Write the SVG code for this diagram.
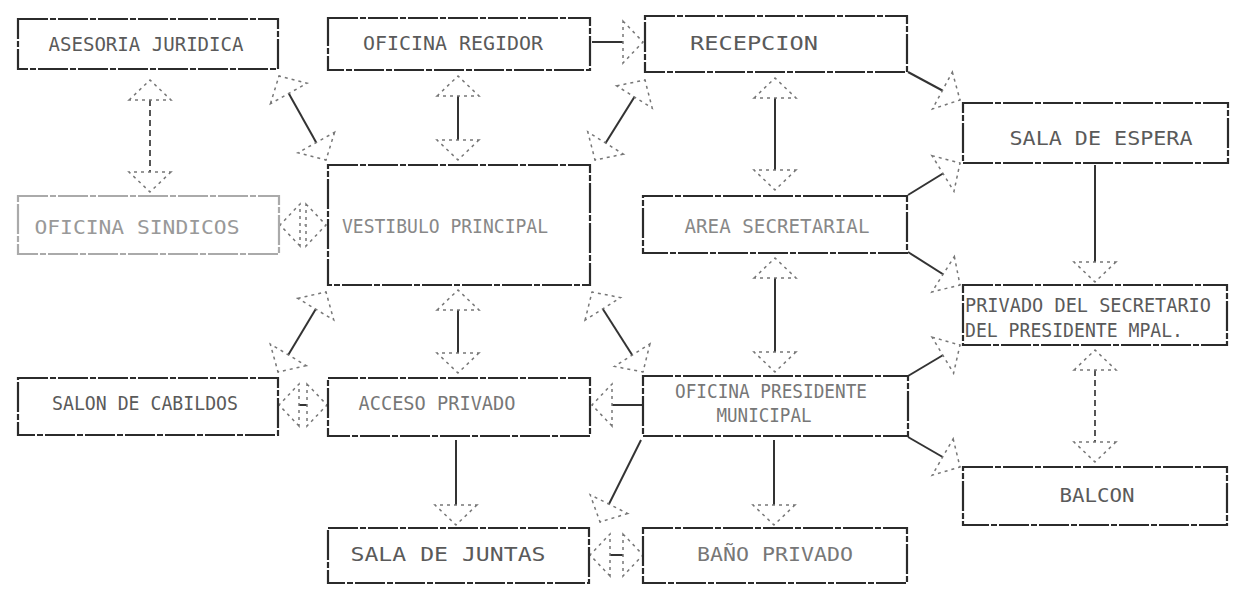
<svg xmlns="http://www.w3.org/2000/svg" width="1234" height="594" viewBox="0 0 1234 594">
<style>
.box{fill:#fff;stroke:#2b2b2b;stroke-width:2.2;stroke-dasharray:30 2 6 2}
.t{font-family:"DejaVu Sans Mono","Liberation Mono",monospace;font-size:19px;fill:#5a5a5a;text-anchor:middle}
.tl{font-family:"DejaVu Sans Mono","Liberation Mono",monospace;font-size:19px;fill:#5a5a5a;text-anchor:start}
.c{fill:none;stroke:#333;stroke-width:2}
.cd{fill:none;stroke:#444;stroke-width:1.8;stroke-dasharray:6 4}
.cf{fill:none;stroke:#999;stroke-width:1.2;stroke-dasharray:2 6}
.d2{marker-start:url(#ah);marker-end:url(#ah)}
.d1{marker-end:url(#ah)}
</style>
<defs>
<marker id="ah" viewBox="-2 -24 24 48" refX="20" refY="0" markerWidth="24" markerHeight="48" markerUnits="userSpaceOnUse" orient="auto-start-reverse">
<path d="M0,-21 L20,0 L0,21 Z" fill="#fff" stroke="#777" stroke-width="1.5" stroke-dasharray="3 4"/>
</marker>
</defs>
<rect width="1234" height="594" fill="#fff"/>
<g id="connectors">
<line class="cd d2" x1="150" y1="80" x2="150" y2="192"/>
<line class="c d2" x1="458" y1="76" x2="458" y2="160"/>
<line class="c d2" x1="775" y1="78" x2="775" y2="190"/>
<line class="c d2" x1="775" y1="258" x2="775" y2="372"/>
<line class="c d2" x1="458" y1="290" x2="458" y2="373"/>
<line class="c d1" x1="456" y1="440" x2="456" y2="525"/>
<line class="c d1" x1="774" y1="440" x2="774" y2="525"/>
<line class="c d1" x1="1095" y1="165" x2="1095" y2="282"/>
<line class="cd d2" x1="1095" y1="350" x2="1095" y2="462"/>
<line class="c d1" x1="592" y1="42" x2="643" y2="42"/>
<line class="c d2" x1="595" y1="160" x2="645" y2="80"/>
<line class="c d2" x1="279" y1="76" x2="326" y2="160"/>
<line class="c d2" x1="326" y1="292" x2="278" y2="372"/>
<line class="c d2" x1="592" y1="292" x2="643" y2="372"/>
<line class="c d2" x1="279" y1="405" x2="327" y2="405"/>
<line class="cf d2" x1="280" y1="225" x2="326" y2="225"/>
<line class="c d1" x1="643" y1="405" x2="592" y2="405"/>
<line class="c d1" x1="908" y1="72" x2="960" y2="100"/>
<line class="c d1" x1="908" y1="195" x2="960" y2="163"/>
<line class="c d1" x1="908" y1="252" x2="960" y2="285"/>
<line class="c d1" x1="908" y1="376" x2="960" y2="345"/>
<line class="c d1" x1="908" y1="437" x2="960" y2="467"/>
<line class="c d1" x1="641" y1="440" x2="600" y2="522"/>
<line class="c d2" x1="590" y1="555" x2="643" y2="555"/>
</g>
<g id="asesoria-juridica"><rect class="box" x="18" y="19" width="260" height="50"/><text class="t" x="146" y="51" textLength="195" lengthAdjust="spacingAndGlyphs">ASESORIA JURIDICA</text></g>
<g id="oficina-regidor"><rect class="box" x="328" y="18" width="262" height="52"/><text class="t" x="453" y="50" textLength="180" lengthAdjust="spacingAndGlyphs">OFICINA REGIDOR</text></g>
<g id="recepcion"><rect class="box" x="645" y="16" width="262" height="56"/><text class="t" x="754" y="50" textLength="128" lengthAdjust="spacingAndGlyphs">RECEPCION</text></g>
<g id="sala-espera"><rect class="box" x="963" y="103" width="265" height="60"/><text class="t" x="1101" y="145" textLength="183" lengthAdjust="spacingAndGlyphs">SALA DE ESPERA</text></g>
<g id="oficina-sindicos"><rect class="box" x="18" y="196" width="261" height="58" style="stroke:#aaa"/><text class="t" x="137" y="234" textLength="205" lengthAdjust="spacingAndGlyphs" style="fill:#999">OFICINA SINDICOS</text></g>
<g id="vestibulo-principal"><rect class="box" x="328" y="165" width="262" height="120"/><text class="t" x="445" y="233" textLength="206" lengthAdjust="spacingAndGlyphs" style="fill:#888">VESTIBULO PRINCIPAL</text></g>
<g id="area-secretarial"><rect class="box" x="643" y="196" width="264" height="57"/><text class="t" x="777" y="233" textLength="185" lengthAdjust="spacingAndGlyphs" style="fill:#888">AREA SECRETARIAL</text></g>
<g id="privado-secretario"><rect class="box" x="963" y="285" width="264" height="60"/><text class="tl" x="965" y="312" textLength="246" lengthAdjust="spacingAndGlyphs">PRIVADO DEL SECRETARIO</text><text class="tl" x="965" y="337" textLength="218" lengthAdjust="spacingAndGlyphs">DEL PRESIDENTE MPAL.</text></g>
<g id="salon-cabildos"><rect class="box" x="18" y="378" width="260" height="57"/><text class="t" x="145" y="410" textLength="186" lengthAdjust="spacingAndGlyphs">SALON DE CABILDOS</text></g>
<g id="acceso-privado"><rect class="box" x="328" y="378" width="262" height="58"/><text class="t" x="437" y="410" textLength="157" lengthAdjust="spacingAndGlyphs" style="fill:#777">ACCESO PRIVADO</text></g>
<g id="oficina-presidente"><rect class="box" x="643" y="376" width="265" height="60"/><text class="t" x="771" y="398" textLength="192" lengthAdjust="spacingAndGlyphs" style="fill:#777">OFICINA PRESIDENTE</text><text class="t" x="764" y="422" textLength="95" lengthAdjust="spacingAndGlyphs" style="fill:#777">MUNICIPAL</text></g>
<g id="sala-juntas"><rect class="box" x="328" y="528" width="261" height="55"/><text class="t" x="448" y="561" textLength="195" lengthAdjust="spacingAndGlyphs">SALA DE JUNTAS</text></g>
<g id="bano-privado"><rect class="box" x="643" y="528" width="264" height="55"/><text class="t" x="775" y="561" textLength="156" lengthAdjust="spacingAndGlyphs" style="fill:#777">BAÑO PRIVADO</text></g>
<g id="balcon"><rect class="box" x="963" y="467" width="264" height="58"/><text class="t" x="1097" y="502" textLength="75" lengthAdjust="spacingAndGlyphs">BALCON</text></g>
</svg>
